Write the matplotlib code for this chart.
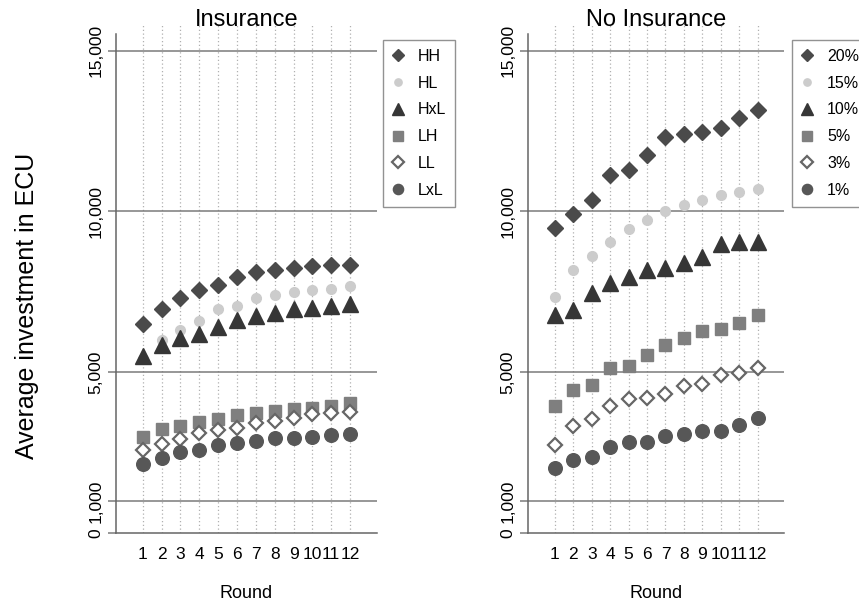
import numpy as np
import matplotlib
matplotlib.use("Agg")
import matplotlib.pyplot as plt
from matplotlib.lines import Line2D

plt.rcParams["font.family"] = ["Liberation Sans", "DejaVu Sans"]

rounds = np.arange(1, 13)

# Insurance treatment
ins_labels = ["HH", "HL", "HxL", "LH", "LL", "LxL"]
ins_hh = [6490, 6960, 7300, 7560, 7710, 7970, 8120, 8170, 8250, 8290, 8330, 8340]
ins_hl = [5420, 6000, 6310, 6580, 6960, 7060, 7320, 7400, 7490, 7550, 7580, 7680]
ins_hxl = [5490, 5840, 6050, 6180, 6420, 6620, 6750, 6830, 6980, 7010, 7060, 7110]
ins_lh = [3000, 3230, 3330, 3460, 3560, 3670, 3730, 3780, 3850, 3900, 3950, 4030]
ins_ll = [2580, 2760, 2920, 3100, 3200, 3280, 3420, 3470, 3590, 3700, 3720, 3750]
ins_lxl = [2160, 2320, 2510, 2590, 2730, 2800, 2850, 2940, 2950, 2990, 3050, 3070]

# No insurance treatment
noins_labels = ["20%", "15%", "10%", "5%", "3%", "1%"]
noins_20 = [9490, 9910, 10370, 11130, 11300, 11750, 12320, 12400, 12480, 12590, 12910, 13150]
noins_15 = [7330, 8180, 8630, 9050, 9470, 9720, 10030, 10190, 10370, 10510, 10610, 10710]
noins_10 = [6770, 6930, 7480, 7790, 7970, 8170, 8250, 8410, 8580, 8980, 9050, 9050]
noins_5 = [3950, 4450, 4610, 5130, 5200, 5530, 5840, 6080, 6270, 6360, 6520, 6790]
noins_3 = [2740, 3330, 3540, 3950, 4160, 4210, 4320, 4560, 4630, 4910, 4970, 5120]
noins_1 = [2020, 2270, 2350, 2690, 2820, 2820, 3010, 3070, 3160, 3160, 3360, 3590]

yticks = [0, 1000, 5000, 10000, 15000]
ytick_labels = ["0", "1,000", "5,000", "10,000", "15,000"]

# marker, size, face, edge for each of the six series
styles = [
    dict(marker="D", ms=7.8, mfc="#4a4a4a", mec="#4a4a4a"),
    dict(marker="o", ms=7.0, mfc="#cccccc", mec="#cccccc"),
    dict(marker="^", ms=11.0, mfc="#363636", mec="#363636"),
    dict(marker="s", ms=9.2, mfc="#7f7f7f", mec="#7f7f7f"),
    dict(marker="D", ms=7.6, mfc="white", mec="#666666", mew=1.6),
    dict(marker="o", ms=9.8, mfc="#575757", mec="#575757"),
]


def panel(ax, title, series, labels, xlim, leg_x):
    for i in rounds:
        ax.axvline(i, color="#b0b0b0", ls=(0, (1, 2)), lw=0.9, zorder=1)
    for v in yticks[1:]:
        ax.axhline(v, color="#7a7a7a", lw=1.1, zorder=1)
    for vals, st in zip(series, styles):
        ax.plot(rounds, vals, ls="none", zorder=3, **st)

    ax.set_xlim(*xlim)
    ax.set_ylim(0, 15800)
    ax.set_xticks(rounds)
    ax.set_xticklabels([str(r) for r in rounds], fontsize=12.5)
    ax.tick_params(axis="x", length=0, pad=10)
    ax.set_yticks(yticks)
    ax.set_yticklabels(ytick_labels, rotation=90, va="center", fontsize=12.5)
    ax.tick_params(axis="y", length=6, color="#7a7a7a", width=1.1, pad=3)
    ax.spines["top"].set_visible(False)
    ax.spines["right"].set_visible(False)
    ax.spines["left"].set_bounds(0, 15530)
    for s in ("left", "bottom"):
        ax.spines[s].set_color("#666666")
        ax.spines[s].set_linewidth(1.1)
    # fixed y so the title sits on the top edge of the plot area
    ax.set_title(title, fontsize=17, y=1.0, pad=-1)
    ax.set_xlabel("Round", fontsize=13, labelpad=17)

    handles = [Line2D([], [], ls="none", **st) for st in styles]
    leg = ax.legend(handles, labels, loc="upper left",
                    bbox_to_anchor=(leg_x, 1 - 40 / 605), bbox_transform=fig.transFigure,
                    fontsize=11.5, frameon=True, fancybox=False, edgecolor="#777777",
                    markerscale=0.75, labelspacing=0.74, handlelength=0.8,
                    handletextpad=0.85, borderpad=0.55, borderaxespad=0)
    leg.get_frame().set_linewidth(1.0)


fig = plt.figure(figsize=(8.59, 6.05), dpi=100)
ax1 = fig.add_axes([116 / 859, 72 / 605, 261 / 859, 508 / 605])
ax2 = fig.add_axes([528 / 859, 72 / 605, 256 / 859, 508 / 605])

panel(ax1, "Insurance", [ins_hh, ins_hl, ins_hxl, ins_lh, ins_ll, ins_lxl],
      ins_labels, (-0.42, 13.43), 383 / 859)
panel(ax2, "No Insurance", [noins_20, noins_15, noins_10, noins_5, noins_3, noins_1],
      noins_labels, (-0.46, 13.43), 792 / 859)

fig.text(27 / 859, 1 - 306 / 605, "Average investment in ECU", rotation=90,
         ha="center", va="center", fontsize=18)

fig.savefig("out.png", dpi=100)
